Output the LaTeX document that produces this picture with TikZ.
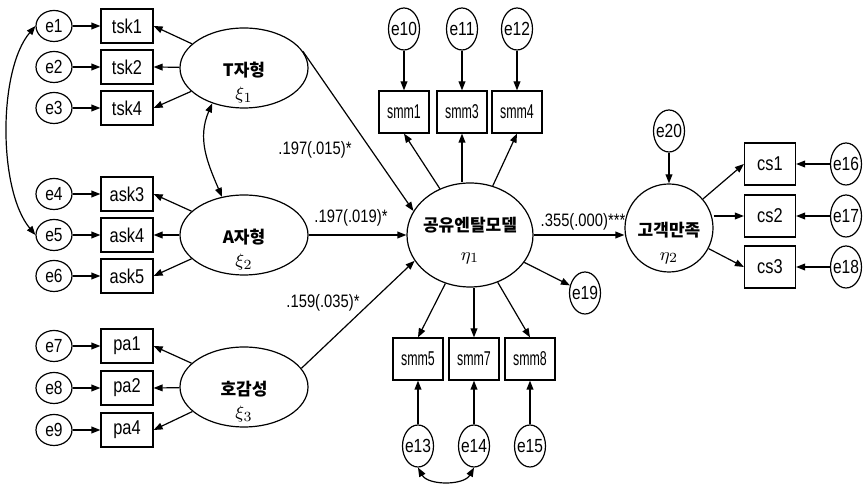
\documentclass[tikz,border=0pt]{standalone}
\usepackage{fontspec}
\setmainfont{Liberation Sans}[FakeStretch=0.82]
\newfontfamily\narrowfont{Liberation Sans}[FakeStretch=0.62]
\newfontfamily\krfont{Noto Sans CJK KR}
\usetikzlibrary{arrows.meta,shapes.geometric}

\begin{document}
\begin{tikzpicture}[x=0.5pt, y=-0.5pt, line width=0.6pt,
  ecirc/.style  = {draw, ellipse, inner sep=0pt, minimum width=18pt,
                   minimum height=15.5pt, font=\fontsize{9.5}{10}\selectfont},
  vcirc/.style  = {draw, ellipse, inner xsep=-3pt, inner ysep=0pt,
                   minimum width=15.5pt, minimum height=21pt,
                   font=\fontsize{9.5}{10}\selectfont},
  obox/.style   = {draw, inner sep=0pt, minimum width=26pt,
                   minimum height=17pt, font=\fontsize{10}{11}\selectfont},
  sbox/.style   = {obox, minimum width=25pt, minimum height=21pt},
  mbox/.style   = {sbox, font=\narrowfont\fontsize{10}{11}\selectfont},
  latent/.style = {draw, ellipse, minimum width=64pt, minimum height=40pt},
  kname/.style  = {inner sep=0pt, font=\krfont\bfseries\fontsize{8.5}{9}\selectfont},
  gsym/.style   = {inner sep=0pt, font=\fontsize{9.5}{10}\selectfont},
  plbl/.style   = {inner sep=0pt, font=\fontsize{9}{10}\selectfont},
  arr/.style    = {-{Triangle[length=4.5pt,width=3.4pt]}},
  darr/.style   = {{Triangle[length=4.5pt,width=3.4pt]}-{Triangle[length=4.5pt,width=3.4pt]}},
]
\useasboundingbox (0,0) rectangle (864,485);

% exogenous factors
\node[latent] (T) at (244, 68) {};
\node[kname]  (T-name) at (244, 70) {T자형};
\node[gsym]   (T-sym)  at (244, 95) {$\xi_1$};
\node[latent] (A) at (244,235) {};
\node[kname]  (A-name) at (244,237) {A자형};
\node[gsym]   (A-sym)  at (244,262) {$\xi_2$};
\node[latent] (P) at (244,387) {};
\node[kname]  (P-name) at (244,389) {호감성};
\node[gsym]   (P-sym)  at (244,414) {$\xi_3$};

% endogenous factors
\node[latent, minimum width=63pt, minimum height=52pt] (C) at (470,235) {};
\node[kname]  (C-name) at (470,225) {공유엔탈모델};
\node[gsym]   (C-sym)  at (470,258) {$\eta_1$};
\node[draw, circle, minimum size=44pt] (S) at (669,228) {};
\node[kname]  (S-name) at (669,230) {고객만족};
\node[gsym]   (S-sym)  at (669,258) {$\eta_2$};

% indicators with their errors
\foreach \i/\b/\y in {1/tsk1/26, 2/tsk2/67, 3/tsk4/108,
                      4/ask3/194, 5/ask4/235, 6/ask5/276,
                      7/pa1/346, 8/pa2/388, 9/pa4/430} {
  \node[ecirc] (e\i) at (54,\y) {e\i};
  \node[obox]  (\b)  at (127,\y) {\b};
  \draw[arr] (e\i) -- (\b);
}
\foreach \i/\b/\x in {10/smm1/404, 11/smm3/462, 12/smm4/517} {
  \node[vcirc] (e\i) at (\x, 29) {e\i};
  \node[mbox]  (\b)  at (\x,112) {\b};
  \draw[arr] (e\i) -- (\b);
}
\foreach \i/\b/\x in {13/smm5/418, 14/smm7/474, 15/smm8/530} {
  \node[vcirc] (e\i) at (\x,446) {e\i};
  \node[mbox]  (\b)  at (\x,359) {\b};
  \draw[arr] (e\i) -- (\b);
}
\foreach \i/\b/\y in {16/cs1/164, 17/cs2/216, 18/cs3/267} {
  \node[vcirc] (e\i) at (846,\y) {e\i};
  \node[sbox, minimum width=25.5pt] (\b) at (770,\y) {\b};
  \draw[arr] (e\i) -- (\b);
}
\node[vcirc] (e19) at (585,293) {e19};
\node[vcirc] (e20) at (669,131) {e20};

% loadings
\foreach \f/\b in {T/tsk1, T/tsk2, T/tsk4, A/ask3, A/ask4, A/ask5,
                   P/pa1, P/pa2, P/pa4}
  \draw[arr] (\f) -- (\b.east);
\draw[arr] (C) -- (smm1.south);
\draw[arr] (C.north -| smm3) -- (smm3);
\draw[arr] (C) -- (smm4.south);
\draw[arr] (C) -- (smm5.north);
\draw[arr] (C.south -| smm7) -- (smm7);
\draw[arr] (C) -- (smm8.north);
\draw[arr] (S) -- (cs1.west);
\draw[arr] (S.east |- cs2) -- (cs2);
\draw[arr] (S) -- (cs3.west);
\draw[arr] (C) -- (e19);
\draw[arr] (e20) -- (S);

% structural paths
\draw[arr] (T.16) -- (C.157);
\draw[arr] (A.east) -- (C.west);
\draw[arr] (P.18) -- (C.205);
\draw[arr] (C.east) -- (C.east -| S.west);
\node[plbl] (p-TC) at (315,150) {.197(.015)*};
\node[plbl] (p-AC) at (351,218) {.197(.019)*};
\node[plbl] (p-PC) at (323,303) {.159(.035)*};
\node[plbl] (p-CS) at (583,222) {.355(.000)***};

% covariances
\draw[darr] (e1.west) .. controls (-2,70) and (-2,190) .. (e5.west);
\draw[darr] (T.228) .. controls +(-15,35) and +(-15,-35) .. (A.120);
\draw[darr] (e13.south) .. controls +(10,18) and +(-10,18) .. (e14.south);

\end{tikzpicture}
\end{document}
